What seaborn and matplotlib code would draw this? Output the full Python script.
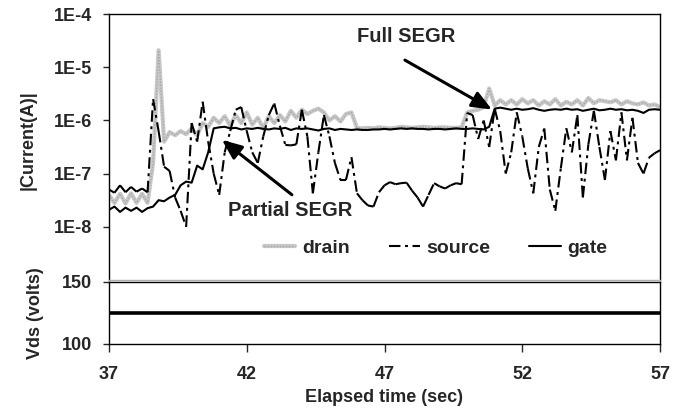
import numpy as np
import pandas as pd
import matplotlib
matplotlib.use("Agg")
import matplotlib.pyplot as plt
from matplotlib.lines import Line2D
from matplotlib.ticker import FixedLocator, NullLocator
import seaborn as sns

# ---------------- data ----------------
time = [37.0, 37.2, 37.4, 37.6, 37.8, 38.0, 38.2, 38.4, 38.6, 38.8,
        39.0, 39.2, 39.4, 39.6, 39.8, 40.0, 40.2, 40.4, 40.6, 40.8,
        41.0, 41.2, 41.4, 41.6, 41.8, 42.0, 42.2, 42.4, 42.6, 42.8,
        43.0, 43.2, 43.4, 43.6, 43.8, 44.0, 44.2, 44.4, 44.6, 44.8,
        45.0, 45.2, 45.4, 45.6, 45.8, 46.0, 46.2, 46.4, 46.6, 46.8,
        47.0, 47.2, 47.4, 47.6, 47.8, 48.0, 48.2, 48.4, 48.6, 48.8,
        49.0, 49.2, 49.4, 49.6, 49.8, 50.0, 50.2, 50.4, 50.6, 50.8,
        51.0, 51.2, 51.4, 51.6, 51.8, 52.0, 52.2, 52.4, 52.6, 52.8,
        53.0, 53.2, 53.4, 53.6, 53.8, 54.0, 54.2, 54.4, 54.6, 54.8,
        55.0, 55.2, 55.4, 55.6, 55.8, 56.0, 56.2, 56.4, 56.6, 56.8,
        57.0]

# log10 of |current| (A)
drain_log10 = [-7.40, -7.55, -7.38, -7.56, -7.37, -7.55, -7.38, -7.55, -6.80, -4.68,
               -6.40, -6.22, -6.28, -6.20, -6.26, -6.15, -6.28, -6.05, -6.12, -5.95,
               -6.05, -5.92, -6.10, -5.90, -6.05, -5.85, -6.08, -5.95, -6.15, -5.92,
               -6.05, -5.90, -6.02, -5.82, -5.95, -5.80, -5.88, -5.82, -5.78, -5.85,
               -6.00, -5.92, -6.02, -5.88, -5.85, -6.14, -6.15, -6.14, -6.15, -6.13,
               -6.14, -6.15, -6.14, -6.12, -6.13, -6.14, -6.13, -6.12, -6.13, -6.14,
               -6.13, -6.13, -6.14, -6.14, -6.13, -5.85, -5.82, -5.80, -5.75, -5.40,
               -5.72, -5.62, -5.70, -5.62, -5.70, -5.60, -5.68, -5.62, -5.72, -5.64,
               -5.70, -5.60, -5.72, -5.65, -5.70, -5.62, -5.72, -5.58, -5.68, -5.62,
               -5.64, -5.66, -5.62, -5.70, -5.64, -5.68, -5.70, -5.66, -5.72, -5.70,
               -5.75]

source_log10 = [-7.30, -7.36, -7.22, -7.35, -7.25, -7.34, -7.28, -7.35, -5.60, -6.20,
                -6.87, -6.95, -7.45, -7.70, -8.00, -6.05, -6.40, -5.65, -6.40, -7.00,
                -7.40, -6.60, -6.20, -5.80, -5.75, -6.20, -6.60, -6.80, -6.30, -5.90,
                -5.68, -6.10, -6.46, -6.47, -6.45, -5.80, -6.30, -7.37, -6.60, -5.90,
                -6.30, -6.80, -7.12, -7.12, -6.69, -7.37, -7.50, -7.60, -7.62, -7.35,
                -7.22, -7.16, -7.20, -7.18, -7.17, -7.32, -7.45, -7.62, -7.40, -7.18,
                -7.24, -7.28, -7.22, -7.18, -7.20, -5.86, -5.90, -6.35, -6.00, -6.50,
                -5.78, -6.20, -7.00, -6.60, -5.85, -6.30, -6.90, -7.37, -6.50, -6.15,
                -7.30, -7.70, -6.90, -6.15, -6.60, -5.90, -7.45, -6.45, -5.82, -6.50,
                -7.12, -6.20, -6.75, -5.85, -6.75, -5.95, -6.80, -7.00, -6.70, -6.62,
                -6.56]

gate_log10 = [-7.68, -7.62, -7.72, -7.64, -7.70, -7.64, -7.72, -7.65, -7.62, -7.50,
              -7.52, -7.45, -7.40, -7.22, -7.15, -7.17, -6.85, -6.92, -6.60, -6.15,
              -6.13, -6.12, -6.15, -6.14, -6.17, -6.15, -6.16, -6.14, -6.16, -6.17,
              -6.15, -6.16, -6.14, -6.18, -6.15, -6.16, -6.15, -6.17, -6.19, -6.16,
              -6.15, -6.18, -6.16, -6.17, -6.18, -6.17, -6.18, -6.18, -6.17, -6.17,
              -6.16, -6.17, -6.16, -6.15, -6.16, -6.15, -6.16, -6.16, -6.17, -6.16,
              -6.16, -6.17, -6.16, -6.15, -6.16, -6.16, -6.15, -6.16, -6.17, -6.12,
              -5.78, -5.76, -5.78, -5.80, -5.78, -5.80, -5.79, -5.77, -5.80, -5.82,
              -5.80, -5.79, -5.80, -5.78, -5.80, -5.79, -5.82, -5.80, -5.78, -5.81,
              -5.80, -5.78, -5.80, -5.79, -5.81, -5.80, -5.82, -5.86, -5.80, -5.79,
              -5.80]

vds_time = [37.0, 39.0, 41.0, 43.0, 45.0, 47.0, 49.0, 51.0, 53.0, 55.0, 57.0]
vds_volts = [125.0, 125.0, 125.0, 125.0, 125.0, 125.0, 125.0, 125.0, 125.0, 125.0, 125.0]

current_ticks = [1e-8, 1e-7, 1e-6, 1e-5, 1e-4]
current_ticklabels = ["1E-8", "1E-7", "1E-6", "1E-5", "1E-4"]
time_ticks = [37, 42, 47, 52, 57]
vds_ticks = [100, 150]

# ---------------- style ----------------
sns.set_style("ticks")
plt.rcParams["font.family"] = ["Liberation Sans", "DejaVu Sans"]
plt.rcParams["font.weight"] = "bold"
plt.rcParams["axes.labelweight"] = "bold"

df = pd.DataFrame({
    "time": time,
    "drain": np.power(10.0, drain_log10),
    "source": np.power(10.0, source_log10),
    "gate": np.power(10.0, gate_log10),
})

# source drawn segment by segment so the dash pattern restarts on every segment
seg_rows = []
for i in range(len(time) - 1):
    for j in (i, i + 1):
        seg_rows.append({"seg": i, "time": time[j], "current": 10.0 ** source_log10[j]})
seg_df = pd.DataFrame(seg_rows)

vds_df = pd.DataFrame({"time": vds_time, "vds": vds_volts})

W, H = 689, 409
fig = plt.figure(figsize=(W / 100, H / 100), dpi=100)
ax1 = fig.add_axes([109 / W, 1 - 280 / H, 551 / W, 266 / H])
ax2 = fig.add_axes([109 / W, 1 - 344 / H, 551 / W, 62 / H])

SRC_DASH = (0, (5.5, 2.2, 1.4, 2.2))

# ---- top panel ----
sns.lineplot(data=df, x="time", y="drain", ax=ax1, color="#c8c8c8", lw=3.0,
             solid_capstyle="butt", zorder=2)
sns.lineplot(data=df, x="time", y="drain", ax=ax1, color="#a8a8a8", lw=1.0,
             linestyle=(0, (1, 1.2)), zorder=2.1)
sns.lineplot(data=seg_df, x="time", y="current", units="seg", estimator=None,
             ax=ax1, color="black", lw=1.5, linestyle=SRC_DASH, zorder=3)
sns.lineplot(data=df, x="time", y="gate", ax=ax1, color="black", lw=1.5, zorder=4)

ax1.set_yscale("log")
ax1.set_ylim(1e-9, 1e-4)
ax1.set_xlim(37, 57)
ax1.yaxis.set_major_locator(FixedLocator(current_ticks))
ax1.set_yticklabels(current_ticklabels)
ax1.yaxis.set_minor_locator(NullLocator())
ax1.set_xticks([])
ax1.set_xlabel("")
ax1.set_ylabel("")
for s in ax1.spines.values():
    s.set_visible(True)
    s.set_color("black")
    s.set_linewidth(1.0)
ax1.spines["bottom"].set_color("#b0b0b0")
ax1.tick_params(axis="y", direction="out", length=4, width=1, labelsize=13, pad=8)
for lab in ax1.get_yticklabels():
    lab.set_fontweight("bold")

# legend
h_drain = (Line2D([], [], color="#c8c8c8", lw=3.0),
           Line2D([], [], color="#a8a8a8", lw=1.0, linestyle=(0, (1, 1.2))))
h_source = Line2D([], [], color="black", lw=1.5, linestyle=SRC_DASH)
h_gate = Line2D([], [], color="black", lw=1.5)
leg = ax1.legend([h_drain, h_source, h_gate], ["drain", "source", "gate"],
                 loc="center", bbox_to_anchor=(0.593, 0.12), ncol=3, frameon=False,
                 handlelength=1.6, columnspacing=2.0, handletextpad=0.35,
                 prop={"size": 14, "weight": "bold"})

# annotations
arrow_kw = dict(arrowstyle="-|>,head_length=0.6,head_width=0.25", color="black",
                lw=2.2, mutation_scale=20, shrinkA=0, shrinkB=0)
ax1.annotate("", xy=(50.9, 1.6e-6), xytext=(47.74, 1.36e-5), arrowprops=arrow_kw)
ax1.text(47.78, 3.7e-5, "Full SEGR", ha="center", va="center", fontsize=14.5,
         fontweight="bold")
ax1.annotate("", xy=(41.1, 4.3e-7), xytext=(43.64, 4.0e-8), arrowprops=arrow_kw)
ax1.text(43.57, 2.0e-8, "Partial SEGR", ha="center", va="center", fontsize=14.5,
         fontweight="bold")

# ---- bottom panel ----
sns.lineplot(data=vds_df, x="time", y="vds", ax=ax2, color="black", lw=2.6)
ax2.set_xlim(37, 57)
ax2.set_ylim(100, 150)
ax2.set_yticks(vds_ticks)
ax2.set_xticks(time_ticks)
ax2.set_xlabel("")
ax2.set_ylabel("")
for s in ax2.spines.values():
    s.set_visible(True)
    s.set_color("black")
    s.set_linewidth(1.0)
ax2.tick_params(axis="y", direction="out", length=4, width=1, labelsize=13, pad=8)
ax2.tick_params(axis="x", direction="out", length=6, width=1, labelsize=13, pad=10)
for lab in ax2.get_xticklabels() + ax2.get_yticklabels():
    lab.set_fontweight("bold")

# axis titles
fig.text(28 / W, 1 - 140 / H, "|Current(A)|", rotation=90, ha="center", va="center",
         fontsize=13, fontweight="bold")
fig.text(36 / W, 1 - 313 / H, "Vds (volts)", rotation=90, ha="center", va="center",
         fontsize=13, fontweight="bold")
fig.text(384 / W, 1 - 397 / H, "Elapsed time (sec)", ha="center", va="center",
         fontsize=13, fontweight="bold")

fig.savefig("out.png", dpi=100)
